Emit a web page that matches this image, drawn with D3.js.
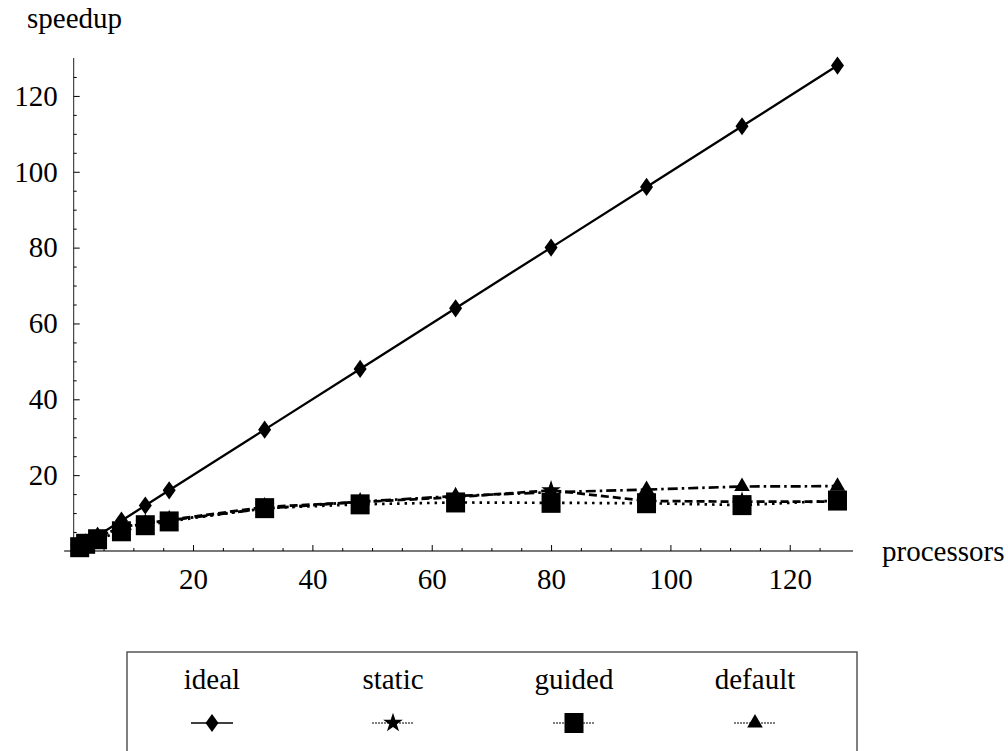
<!DOCTYPE html>
<html lang="en">

<head>
    <meta charset="UTF-8" />
    <title>speedup vs processors</title>
    <script type="text/javascript" src="https://cdn.jsdelivr.net/npm/d3@7"></script>
    <style type="text/css">
        body { margin: 0; background: #fff; }
    </style>
</head>

<body>
    <svg id="chart" width="1008" height="751"></svg>
    <script type="text/javascript">
        // data
        const processors = [1, 2, 4, 8, 12, 16, 32, 48, 64, 80, 96, 112, 128];
        const ideal = [1, 2, 4, 8, 12, 16, 32, 48, 64, 80, 96, 112, 128];
        const staticSpeedup = [1, 2, 3.7, 6.2, 7.2, 8.2, 11.6, 12.9, 14.2, 16.0, 13.2, 13.0, 13.0];
        const guidedSpeedup = [1, 1.9, 3.1, 5.2, 6.8, 7.8, 11.3, 12.3, 12.8, 12.7, 12.6, 12.1, 13.3];
        const defaultSpeedup = [1, 2, 3.7, 6.3, 7.3, 8.1, 11.2, 13.0, 14.5, 15.5, 16.2, 17.0, 17.1];
        const seriesNames = ["ideal", "static", "guided", "default"];
        const xTicks = [20, 40, 60, 80, 100, 120];
        const yTicks = [20, 40, 60, 80, 100, 120];
        const minorTicks = d3.range(5, 130, 5);

        const FONT = "\"Liberation Serif\"";
        const FONT_SIZE = 29;

        const svg = d3.select("#chart");

        const x = d3.scaleLinear().domain([0, 130.6]).range([73.7, 853]);
        const y = d3.scaleLinear().domain([0, 130]).range([551, 58]);

        // axes lines
        svg.append("line")
            .attr("x1", x(-1.6)).attr("x2", x(130.6))
            .attr("y1", y(0)).attr("y2", y(0))
            .attr("stroke", "#777").attr("stroke-width", 2);
        svg.append("line")
            .attr("x1", x(0)).attr("x2", x(0))
            .attr("y1", y(0)).attr("y2", y(130))
            .attr("stroke", "#222").attr("stroke-width", 1);

        // X axis
        svg.append("g")
            .attr("transform", `translate(0, ${y(0)})`)
            .call(d3.axisBottom(x).tickValues(xTicks).tickSize(-6).tickPadding(17));
        svg.append("g")
            .attr("transform", `translate(0, ${y(0)})`)
            .call(d3.axisBottom(x).tickValues(minorTicks.filter(v => v % 20)).tickSize(-3).tickFormat(""));

        // Y axis
        svg.append("g")
            .attr("transform", `translate(${x(0)}, 0)`)
            .call(d3.axisLeft(y).tickValues(yTicks).tickSize(-6).tickPadding(16));
        svg.append("g")
            .attr("transform", `translate(${x(0)}, 0)`)
            .call(d3.axisLeft(y).tickValues(minorTicks.filter(v => v % 20)).tickSize(-3).tickFormat(""));

        svg.selectAll(".domain").remove();
        svg.selectAll(".tick line").attr("stroke", "#000").attr("stroke-width", 1);
        svg.selectAll("g").attr("font-family", null);
        svg.selectAll(".tick text").attr("font-size", FONT_SIZE).style("font-family", FONT);

        svg.append("text").attr("x", 27).attr("y", 28).attr("font-size", FONT_SIZE).style("font-family", FONT).text("speedup");
        svg.append("text").attr("x", 882).attr("y", 561).attr("font-size", FONT_SIZE).style("font-family", FONT).text("processors");

        // markers
        const diamond = (s) => `M0,${-s * 1.4}L${s},0L0,${s * 1.4}L${-s},0Z`;
        const markers = {
            ideal: (g, k) => g.append("path").attr("d", diamond(6.5 * k)),
            static: (g, k) => g.append("path").attr("d", d3.symbol(d3.symbolStar, 120 * k * k)()),
            guided: (g, k) => g.append("rect").attr("x", -9.5 * k).attr("y", -10 * k).attr("width", 19 * k).attr("height", 20 * k),
            default: (g, k) => g.append("path").attr("d", d3.symbol(d3.symbolTriangle, 105 * k * k)())
        };
        const dashes = {
            ideal: null,
            static: "8,4",
            guided: "2.5,5",
            default: "10,4,2.5,4"
        };
        const values = {
            ideal: ideal,
            static: staticSpeedup,
            guided: guidedSpeedup,
            default: defaultSpeedup
        };

        const line = d3.line().x(d => x(d[0])).y(d => y(d[1]));

        seriesNames.forEach(name => {
            const pts = processors.map((p, i) => [p, values[name][i]]);
            svg.append("path")
                .datum(pts)
                .attr("d", line)
                .attr("fill", "none")
                .attr("stroke", "#000")
                .attr("stroke-width", name === "ideal" ? 2.3 : 2.7)
                .attr("stroke-dasharray", dashes[name]);
        });
        seriesNames.forEach(name => {
            const pts = processors.map((p, i) => [p, values[name][i]]);
            pts.forEach(d => {
                const g = svg.append("g").attr("transform", `translate(${x(d[0])}, ${y(d[1])})`).attr("fill", "#000");
                markers[name](g, 1);
            });
        });

        // legend
        const legend = svg.append("g");
        legend.append("rect")
            .attr("x", 127).attr("y", 652).attr("width", 730).attr("height", 130)
            .attr("fill", "none").attr("stroke", "#555").attr("stroke-width", 1.5);
        const lx = d3.scalePoint().domain(seriesNames).range([212, 755]);
        seriesNames.forEach(name => {
            legend.append("text")
                .attr("x", lx(name)).attr("y", 689)
                .attr("text-anchor", "middle")
                .attr("font-size", FONT_SIZE)
                .style("font-family", FONT)
                .text(name);
            legend.append("line")
                .attr("x1", lx(name) - 21).attr("x2", lx(name) + 21)
                .attr("y1", 723).attr("y2", 723)
                .attr("stroke", "#000")
                .attr("stroke-width", name === "ideal" ? 1.5 : 1)
                .attr("stroke-dasharray", name === "ideal" ? null : "2,1");
            const g = legend.append("g").attr("transform", `translate(${lx(name)}, 723)`).attr("fill", "#000");
            markers[name](g, 1);
        });
    </script>
</body>

</html>
